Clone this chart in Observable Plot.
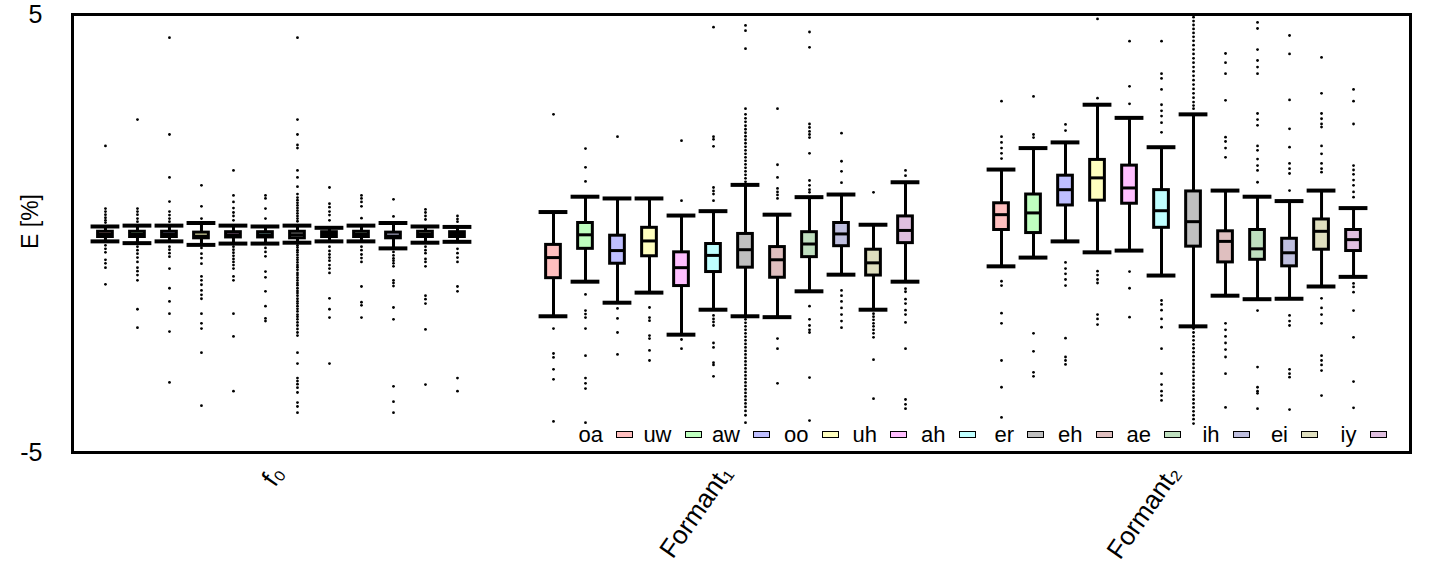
<!DOCTYPE html>
<html>
<head>
<meta charset="utf-8">
<script src="https://cdn.jsdelivr.net/npm/d3@7"></script>
<script src="https://cdn.jsdelivr.net/npm/@observablehq/plot@0.6"></script>
<style>
  body { margin: 0; background: #fff; }
  #wrap { position: relative; width: 1439px; height: 571px; font-family: "Liberation Sans", Arial, Helvetica, sans-serif; }
  #legend { position: absolute; left: 565.5px; top: 424px; display: flex; }
  .item { width: 68.5px; display: flex; align-items: center; height: 22px; }
  .item span { width: 37.5px; text-align: right; font-size: 22px; line-height: 22px; color: #000; }
  .sw { width: 15px; height: 5px; border: 1.5px solid #000; margin-left: 13px; position: relative; top: -1px; }
</style>
</head>
<body>
<div id="wrap"><div id="chart"></div><div id="legend"></div></div>
<script>
// ---- categories ----
const groupNames = ["f₀", "Formant₁", "Formant₂"];
const vowels = ["oa", "uw", "aw", "oo", "uh", "ah", "er", "eh", "ae", "ih", "ei", "iy"];
const vowelColors = ["#ffbfbf", "#bfffbf", "#bfbfff", "#ffffbf", "#ffbfff", "#bfffff",
                     "#bfbfbf", "#dfbfbf", "#bfdfbf", "#bfbfdf", "#dfdfbf", "#dfbfdf"];

// ---- f0 box statistics (E %) ----
const f0Low  = [-0.18, -0.22, -0.18, -0.26, -0.23, -0.23, -0.21, -0.18, -0.18, -0.34, -0.21, -0.19];
const f0Q1   = [-0.08, -0.08, -0.08, -0.11, -0.09, -0.09, -0.11, -0.08, -0.08, -0.11, -0.08, -0.08];
const f0Med  = [-0.02, -0.02, -0.02, -0.06, -0.03, -0.03, -0.03, -0.02, -0.02, -0.06, -0.02, -0.02];
const f0Q3   = [0.04, 0.04, 0.04, 0.02, 0.03, 0.03, 0.04, 0.03, 0.04, 0.02, 0.04, 0.03];
const f0High = [0.16, 0.18, 0.18, 0.24, 0.18, 0.16, 0.18, 0.13, 0.18, 0.24, 0.16, 0.15];
const f0Out = [
  [2.0, 0.57, 0.5, 0.43, 0.36, 0.3, 0.25, -0.27, -0.35, -0.43, -0.6, -0.68, -0.78, -1.16],
  [2.6, 0.57, 0.5, 0.43, 0.34, 0.27, -0.3, -0.38, -0.46, -0.55, -0.65, -0.78, -0.86, -0.95, -1.07, -1.73, -2.15],
  [4.47, 2.26, 1.28, 0.73, 0.5, 0.42, 0.34, 0.27, -0.3, -0.37, -0.45, -0.53, -0.8, -1.25, -1.55, -1.83, -2.24, -3.4],
  [1.1, 0.62, 0.34, -0.33, -0.46, -0.56, -0.69, -0.98, -1.07, -1.17, -1.3, -1.4, -1.49, -1.83, -2.05, -2.17, -2.72, -3.93],
  [1.44, 0.87, 0.72, 0.58, 0.48, 0.4, 0.3, -0.3, -0.37, -0.44, -0.51, -0.58, -0.65, -0.72, -0.8, -0.98, -1.07, -1.83, -2.35, -3.6],
  [0.87, 0.8, 0.57, 0.34, -0.33, -0.42, -0.52, -0.87, -1.0, -1.32, -1.66, -1.94, -2.0],
  [4.47, 2.6, 2.26, 2.02, 1.95, 1.44, 1.28, 1.07, 0.9, 0.82, 0.76, 0.7, 0.64, 0.58, 0.52, 0.46, 0.4, 0.34, 0.28,
   -0.27, -0.32, -0.38, -0.43, -0.49, -0.55, -0.6, -0.66, -0.72, -0.77, -0.83, -0.9, -0.95, -1.01, -1.07, -1.13,
   -1.18, -1.25, -1.31, -1.36, -1.42, -1.49, -1.55, -1.6, -1.66, -1.72, -1.78, -1.85, -1.9, -1.96, -2.03, -2.1,
   -2.18, -2.26, -2.33, -2.72, -2.97, -3.3, -3.37, -3.44, -3.52, -3.63, -3.86, -3.95, -4.09],
  [1.05, 0.68, 0.6, 0.5, 0.42, 0.3, -0.3, -0.4, -0.48, -0.55, -0.62, -0.72, -0.8, -0.9, -1.48, -1.73, -1.92, -2.97],
  [0.87, 0.8, 0.72, 0.62, 0.35, -0.3, -0.38, -0.48, -0.56, -0.65, -1.21, -1.57, -1.64, -1.92],
  [0.78, 0.39, -0.42, -0.5, -0.57, -0.62, -0.68, -0.75, -1.07, -1.13, -1.2, -1.69, -1.96, -3.49, -3.84, -4.09],
  [0.55, 0.48, 0.4, 0.32, -0.3, -0.38, -0.45, -0.58, -0.65, -0.75, -1.42, -1.5, -1.6, -2.19, -3.45],
  [0.4, 0.33, 0.27, -0.35, -0.45, -0.55, -0.65, -1.21, -1.32, -3.3, -3.6]
];

// ---- Formant1 box statistics ----
const f1Low  = [-1.89, -1.1, -1.58, -1.35, -2.31, -1.74, -1.89, -1.91, -1.32, -0.94, -1.74, -1.1];
const f1Q1   = [-1.02, -0.35, -0.69, -0.52, -1.2, -0.88, -0.78, -1.01, -0.54, -0.29, -0.96, -0.22];
const f1Med  = [-0.55, -0.03, -0.39, -0.17, -0.78, -0.5, -0.37, -0.6, -0.24, -0.01, -0.67, 0.07];
const f1Q3   = [-0.26, 0.24, -0.05, 0.13, -0.43, -0.24, -0.01, -0.31, 0.03, 0.24, -0.37, 0.39];
const f1High = [0.49, 0.84, 0.8, 0.8, 0.41, 0.51, 1.11, 0.43, 0.83, 0.89, 0.2, 1.17];
const f1Out = [
  [2.72, -2.17, -2.74, -2.83, -3.1, -3.33, -4.29],
  [1.94, 1.51, 1.19, -1.39, -1.76, -1.84, -1.92, -2.17, -2.79, -3.3, -3.42, -3.54, -4.32],
  [2.21, -1.71, -1.94, -2.26, -2.76],
  [-1.69, -1.92, -1.99, -2.33, -2.4, -2.67, -2.9],
  [2.12, 0.75, -2.42, -2.63],
  [4.71, 2.21, 2.15, 1.99, 1.05, 0.97, 0.9, 0.75, -1.87, -1.95, -2.02, -2.1, -2.5, -2.6, -2.95, -3.0, -3.26],
  [4.75, 4.63, 4.22, 2.85, 2.72, 2.63, 2.55, 2.46, 2.38, 2.3, 2.22, 2.14, 2.06, 1.98, 1.9, 1.82, 1.74, 1.66, 1.58,
   1.5, 1.42, 1.34, 1.26, 1.18, -1.96, -2.04, -2.12, -2.2, -2.28, -2.36, -2.44, -2.52, -2.6, -2.68, -2.76, -2.84,
   -2.92, -3.0, -3.08, -3.16, -3.24, -3.32, -3.4, -3.48, -3.56, -3.64, -3.72, -3.8, -3.88, -3.96, -4.05, -4.15, -4.32],
  [2.85, 1.57, 1.28, 1.03, 0.95, 0.88, 0.8, -2.4, -2.63, -3.42],
  [4.6, 4.25, 2.5, 2.42, 2.33, 2.26, 2.19, 1.83, 1.21, 1.1, 1.0, 0.94, -1.66, -1.96, -2.1, -2.2, -2.26, -3.29, -4.27],
  [2.29, 1.65, 1.42, 1.16, -1.3, -1.42, -1.55, -1.7, -1.85, -2.0, -2.15],
  [0.94, -1.83, -1.9, -1.97, -2.05, -2.12, -2.2, -2.28, -2.37, -2.88, -3.77],
  [1.44, 1.32, -1.26, -1.33, -1.5, -1.6, -1.75, -1.85, -2.03, -2.63, -3.79, -3.9, -4.0]
];

// ---- Formant2 box statistics ----
const f2Low  = [-0.75, -0.55, -0.18, -0.43, -0.39, -0.96, -2.12, -1.42, -1.5, -1.49, -1.21, -0.99];
const f2Q1   = [0.08, 0.01, 0.64, 0.75, 0.68, 0.13, -0.3, -0.66, -0.6, -0.75, -0.37, -0.4];
const f2Med  = [0.43, 0.47, 1.0, 1.27, 1.04, 0.52, 0.27, -0.18, -0.35, -0.44, 0.05, -0.14];
const f2Q3   = [0.69, 0.89, 1.32, 1.68, 1.55, 0.99, 0.96, 0.05, 0.08, -0.12, 0.32, 0.08];
const f2High = [1.46, 1.95, 2.08, 2.94, 2.64, 1.97, 2.72, 0.98, 0.84, 0.74, 0.98, 0.58];
const f2Out = [
  [3.02, 2.21, 2.08, 1.95, 1.83, 1.71, -1.09, -1.19, -1.82, -2.05, -2.9, -3.51, -4.2],
  [3.13, 2.26, 2.19, -2.28, -2.69, -3.17, -3.26],
  [2.49, 2.35, -0.66, -0.8, -0.92, -1.05, -1.19, -2.39, -2.82, -2.9, -2.99],
  [4.9, 3.09, -0.86, -0.95, -1.05, -1.13, -1.85, -1.95, -2.08],
  [4.39, 3.36, 2.96, -0.87, -1.25, -1.91],
  [4.39, 3.65, 3.54, 3.29, 2.94, 2.8, 2.68, 2.53, 2.31, -1.53, -1.62, -1.75, -1.95, -2.14, -2.63, -3.2, -3.45, -3.6, -3.7, -3.81],
  [4.94, 4.85, 4.76, 4.67, 4.58, 4.49, 4.4, 4.3, 4.2, 4.1, 4.0, 3.9, 3.8, 3.7, 3.6, 3.5, 3.4, 3.3, 3.2, 3.1, 3.0,
   2.92, 2.85, -2.17, -2.26, -2.35, -2.44, -2.53, -2.62, -2.71, -2.8, -2.89, -2.98, -3.07, -3.16, -3.25, -3.34,
   -3.43, -3.52, -3.61, -3.7, -3.79, -3.88, -3.97, -4.06, -4.15, -4.24, -4.34],
  [4.11, 3.9, 3.65, 3.04, 2.2, 2.1, 1.95, 1.74, -2.05, -2.2, -2.35, -2.5, -2.65, -2.82, -3.2, -3.97],
  [4.82, 4.68, 4.2, 3.95, 3.8, 3.65, 2.74, 2.6, 2.47, 2.0, 1.9, 1.7, 1.55, 1.44, 1.17, -1.76, -3.05, -3.51, -3.6, -3.65, -4.0],
  [4.52, 4.1, 3.05, 2.39, 1.97, 1.6, 1.48, 1.37, 0.98, -1.87, -2.0, -2.1, -3.1, -3.2, -3.28, -4.02],
  [4.02, 3.2, 2.74, 2.62, 2.5, 2.43, 2.0, 1.82, 1.6, 1.48, 1.4, -1.48, -1.7, -1.85, -2.05, -2.79, -2.9, -3.0, -3.13, -3.7],
  [3.29, 3.02, 2.5, 1.55, 1.45, 1.35, 1.22, 1.1, 0.95, 0.83, -1.14, -1.22, -1.34, -1.76, -2.37, -3.38, -3.98]
];

// ---- y tick labels ----
const yTicks = [-5, 5];
const yTickLabels = ["-5", "5"];

// ---- build tables ----
const stats = [
  [f0Low, f0Q1, f0Med, f0Q3, f0High, f0Out],
  [f1Low, f1Q1, f1Med, f1Q3, f1High, f1Out],
  [f2Low, f2Q1, f2Med, f2Q3, f2High, f2Out]
];
const rows = [];
stats.forEach(([lo, q1, med, q3, hi, out], gi) => {
  vowels.forEach((v, i) => {
    rows.push({group: groupNames[gi], vowel: v, s: gi * 14 + i, low: lo[i], q1: q1[i], med: med[i], q3: q3[i], high: hi[i], color: vowelColors[i], out: out[i]});
  });
});
const outliers = rows.flatMap(r => r.out.map(y => ({s: r.s, y})));
const groupLabels = groupNames.map((g, gi) => ({label: g, s: gi * 14 + 5.5}));

const chart = Plot.plot({
  width: 1439,
  height: 571,
  marginLeft: 72,
  marginRight: 29,
  marginTop: 14,
  marginBottom: 119,
  x: {domain: [-1.03, 40.78], axis: null},
  y: {domain: [-5, 5], axis: null},
  color: {type: "identity"},
  style: {fontFamily: "'Liberation Sans', Arial, Helvetica, sans-serif", background: "white", color: "black"},
  marks: [
    Plot.axisY({ticks: yTicks, tickFormat: d => yTickLabels[yTicks.indexOf(d)], tickSize: 0, tickPadding: 30, fontSize: 25, label: null}),
    Plot.dot(outliers, {x: "s", y: "y", r: 1.4, fill: "black", stroke: null}),
    Plot.ruleX(rows, {x: "s", y1: "low", y2: "high", stroke: "black", strokeWidth: 3}),
    Plot.ruleY(rows, {y: "low", x1: d => d.s - 0.45, x2: d => d.s + 0.45, stroke: "black", strokeWidth: 4}),
    Plot.ruleY(rows, {y: "high", x1: d => d.s - 0.45, x2: d => d.s + 0.45, stroke: "black", strokeWidth: 4}),
    Plot.rect(rows, {x1: d => d.s - 0.23, x2: d => d.s + 0.23, y1: "q1", y2: "q3", fill: "color", stroke: "black", strokeWidth: 3}),
    Plot.ruleY(rows, {y: "med", x1: d => d.s - 0.23, x2: d => d.s + 0.23, stroke: "black", strokeWidth: 3}),
    Plot.frame({stroke: "black", strokeWidth: 3}),
    Plot.text(groupLabels, {x: "s", text: "label", frameAnchor: "bottom", dx: -3, dy: 16, rotate: -55, textAnchor: "end", lineAnchor: "middle", fontSize: 26, fill: "black"}),
    Plot.text(["E [%]"], {frameAnchor: "left", dx: -42, dy: -12, rotate: -90, textAnchor: "middle", lineAnchor: "middle", fontSize: 23, fill: "black"})
  ]
});
document.getElementById("chart").appendChild(chart);

// ---- legend ----
const legend = document.getElementById("legend");
vowels.forEach((v, i) => {
  const item = document.createElement("div");
  item.className = "item";
  const t = document.createElement("span");
  t.textContent = v;
  const sw = document.createElement("div");
  sw.className = "sw";
  sw.style.background = vowelColors[i];
  item.appendChild(t);
  item.appendChild(sw);
  legend.appendChild(item);
});
</script>
</body>
</html>
